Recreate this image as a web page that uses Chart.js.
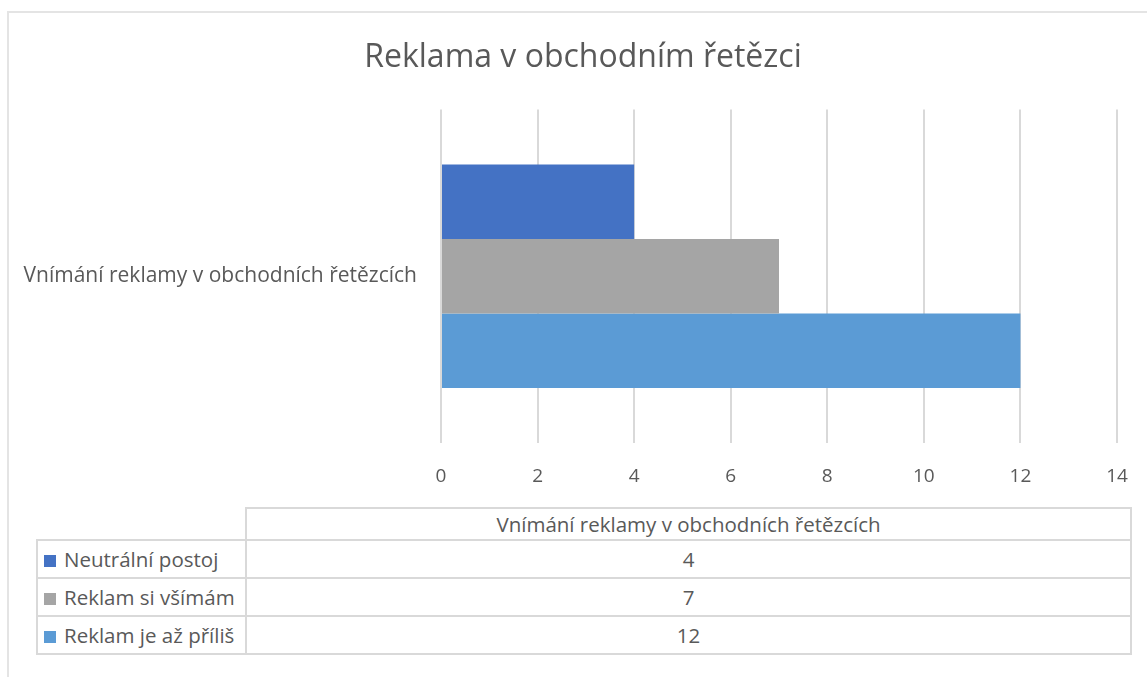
<!DOCTYPE html>
<html>
<head>
<meta charset="utf-8">
<script src="https://cdn.jsdelivr.net/npm/chart.js@4.4.0/dist/chart.umd.min.js"></script>
<style>
  html, body { margin: 0; background: #fff; font-family: "Open Sans", Lato, sans-serif; overflow: hidden; }
  #frame { position: absolute; left: 7px; top: 11px; width: 1160px; height: 700px; border: 2px solid #e4e4e4; box-sizing: border-box; }
  #wrap { position: absolute; left: 0; top: 0; width: 1166px; height: 500px; }
  #datatable { position: absolute; left: 36px; top: 507px; border-collapse: collapse; table-layout: fixed; width: 1094px; color: #595959; font-size: 20.5px; }
  #datatable td { border: 2px solid #d9d9d9; padding: 0; height: 38px; box-sizing: border-box; }
  #datatable tr.hdr td { height: 32px; }
  #datatable td.lbl { padding-left: 6px; white-space: nowrap; overflow: hidden; }
  #datatable td.val { text-align: center; }
  #datatable td.empty { border-top: none; border-left: none; }
  .sw { display: inline-block; width: 12px; height: 12px; margin-right: 8px; vertical-align: 0px; }
</style>
</head>
<body>
<div id="frame"></div>
<div id="wrap"><canvas id="chart"></canvas></div>
<table id="datatable"><colgroup><col style="width:209px"><col style="width:885px"></colgroup><tbody id="tb"></tbody></table>
<script>
const kategorie = ['Vnímání reklamy v obchodních řetězcích']
const serie = ['Neutrální postoj', 'Reklam si všímám', 'Reklam je až příliš']
const hodnoty = [[4], [7], [12]]
const barvy = ['#4472C4', '#A5A5A5', '#5B9BD5']
const osaX = { min: 0, max: 14, step: 2 }

let _datasets = serie.map(function(nazev, i){
    return {
        label: nazev,
        data: hodnoty[i],
        backgroundColor: barvy[i],
        borderWidth: 0,
        yAxisID: 'y',
        categoryPercentage: 0.67,
        barPercentage: 1.0
    }
})

let ctx = document.getElementById('chart').getContext('2d')
new Chart(ctx, {
    type: 'bar',
    data: { labels: kategorie, datasets: _datasets },
    options: {
        indexAxis: 'y',
        responsive: true,
        maintainAspectRatio: false,
        animation: false,
        layout: { padding: 0 },
        plugins: {
            legend: { display: false },
            tooltip: { enabled: false },
            title: {
                display: true,
                text: 'Reklama v obchodním řetězci',
                color: '#595959',
                font: { family: 'Open Sans', size: 32, weight: 'normal' },
                padding: { top: 39, bottom: 32 }
            }
        },
        scales: {
            x: {
                min: osaX.min,
                max: osaX.max,
                ticks: { stepSize: osaX.step, color: '#595959', font: { family: 'Open Sans', size: 19 }, padding: 22 },
                grid: { color: '#d9d9d9', lineWidth: 2, drawTicks: false },
                border: { display: false },
                afterFit: function(scale){ scale.height = 57 }
            },
            y: {
                ticks: { color: '#595959', font: { family: 'Open Sans', size: 21 }, padding: 16 },
                grid: { display: false },
                border: { display: false },
                afterFit: function(scale){ scale.width = 441 }
            },
            // prazdna osa vpravo, jen kvuli okraji
            y2: {
                position: 'right',
                type: 'category',
                ticks: { display: false },
                grid: { display: false },
                border: { display: false },
                afterFit: function(scale){ scale.width = 49 }
            }
        }
    }
})

// tabulka dat pod grafem
let _html = '<tr class="hdr"><td class="lbl empty"></td><td class="val">' + kategorie[0] + '</td></tr>'
serie.forEach(function(nazev, i){
    _html += '<tr><td class="lbl"><span class="sw" style="background:' + barvy[i] + '"></span>' + nazev + '</td>' +
        '<td class="val">' + hodnoty[i][0] + '</td></tr>'
})
document.getElementById('tb').innerHTML = _html
</script>
</body>
</html>
